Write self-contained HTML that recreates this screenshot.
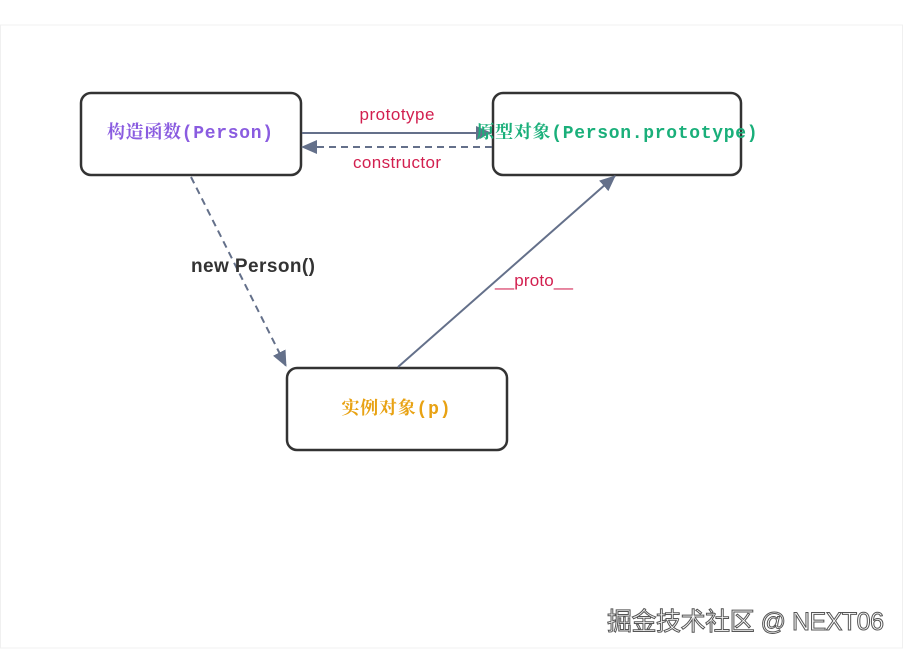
<!DOCTYPE html>
<html><head><meta charset="utf-8"><style>
body{margin:0;width:903px;height:655px;background:#fff;overflow:hidden}
</style></head><body>
<svg width="903" height="655" xmlns="http://www.w3.org/2000/svg">
<defs>
<marker id="ah2" markerWidth="16" markerHeight="14" refX="15" refY="7" orient="auto" markerUnits="userSpaceOnUse">
<path d="M0,0 L16,7 L0,14 z" fill="#64708a"/></marker>
</defs>
<rect x="0.5" y="25" width="902" height="623" fill="none" stroke="#f0f0f0"/>
<rect x="81" y="93" width="220" height="82" rx="10" fill="#fff" stroke="#333" stroke-width="2.5"/>
<rect x="493" y="93" width="248" height="82" rx="10" fill="#fff" stroke="#333" stroke-width="2.5"/>
<rect x="287" y="368" width="220" height="82" rx="10" fill="#fff" stroke="#333" stroke-width="2.5"/>
<line x1="302" y1="133" x2="491" y2="133" stroke="#64708a" stroke-width="2" marker-end="url(#ah2)"/>
<line x1="492" y1="147" x2="302" y2="147" stroke="#64708a" stroke-width="2" stroke-dasharray="7,5" marker-end="url(#ah2)"/>
<line x1="191" y1="177" x2="286" y2="366" stroke="#64708a" stroke-width="2" stroke-dasharray="7,5" marker-end="url(#ah2)"/>
<line x1="398" y1="367" x2="615" y2="176" stroke="#64708a" stroke-width="2" marker-end="url(#ah2)"/>
<g font-family="Liberation Sans, Noto Sans CJK SC, sans-serif" font-size="17" fill="#d21f4f" text-anchor="middle">
<text x="397" y="120" textLength="75">prototype</text>
<text x="397" y="168" textLength="88">constructor</text>
<text x="534" y="286" textLength="78">__proto__</text>
</g>
<text x="253" y="272" text-anchor="middle" font-family="Liberation Sans, Noto Sans CJK SC, sans-serif" font-size="19" font-weight="bold" fill="#333" textLength="124">new Person()</text>
<g font-family="Liberation Mono, Noto Serif CJK SC, monospace" font-size="18" font-weight="bold" text-anchor="middle">
<text x="190" y="138" fill="#8a5ce0" textLength="166">构造函数(Person)</text>
<text x="617" y="138" fill="#1aaf7a" textLength="281">原型对象(Person.prototype)</text>
<text x="396" y="414" fill="#e8a213" textLength="109">实例对象(p)</text>
</g>
<text x="884" y="630" text-anchor="end" font-family="Liberation Sans, Noto Sans CJK SC, sans-serif" font-size="25" fill="#fff" stroke="#555" stroke-width="1" textLength="277">掘金技术社区 @ NEXT06</text>
</svg>
</body></html>
